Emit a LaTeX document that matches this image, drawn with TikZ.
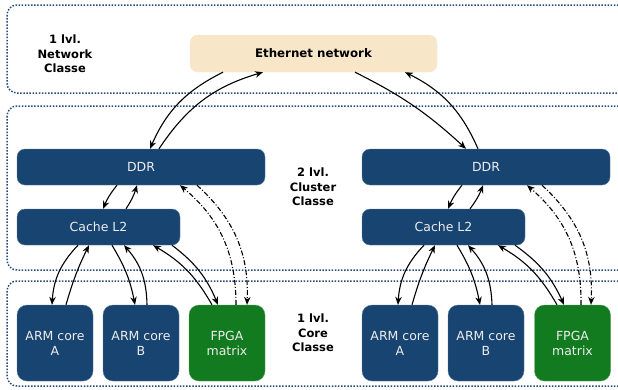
\documentclass[tikz,border=0pt]{standalone}
\usepackage{fontspec}
\setmainfont{DejaVu Sans}
\usetikzlibrary{arrows.meta}
\definecolor{nodeblue}{HTML}{174470}
\definecolor{nodegreen}{HTML}{127A1F}
\definecolor{beige}{HTML}{F8E6C8}
\definecolor{frameblue}{HTML}{264B7A}
\definecolor{txtwhite}{HTML}{EDEDED}
\tikzset{
  frame/.style={draw=frameblue, line width=1.5pt, dash pattern=on 1.5pt off 1.6pt, rounded corners=10pt},
  bluebox/.style={fill=nodeblue, draw=nodeblue!70!white, line width=0.4pt, rounded corners=8pt, text=txtwhite, font=\fontsize{12.5}{15}\selectfont, align=center, inner sep=0pt},
  greenbox/.style={bluebox, fill=nodegreen, draw=nodegreen!70!white},
  ethbox/.style={fill=beige, draw=beige, rounded corners=8pt, font=\bfseries\fontsize{11.8}{13}\selectfont, inner sep=0pt},
  lbl/.style={font=\bfseries\fontsize{11.5}{14.5}\selectfont, align=center},
  arr/.style={-{Stealth[length=8pt,width=6.5pt]}, line width=1.1pt, black},
  darr/.style={arr, dash pattern=on 5pt off 2pt on 1pt off 2pt}
}
\begin{document}
\begin{tikzpicture}[x=1pt,y=1pt]
\useasboundingbox (0,0) rectangle (618,-389);
% frames
\draw[frame] (7,-5) rectangle (630,-93);
\draw[frame] (7,-106) rectangle (630,-270);
\draw[frame] (7,-281) rectangle (630,-386);
% labels
\node[lbl] (l1) at (65,-54) {1 lvl.\\Network\\Classe};
\node[lbl] (l2) at (313,-187) {2 lvl.\\Cluster\\Classe};
\node[lbl] (l3) at (313,-333) {1 lvl.\\Core\\Classe};
% nodes
\node[ethbox, minimum width=247pt, minimum height=37pt] (eth) at (313.5,-53.5) {Ethernet network};
\node[bluebox, minimum width=248pt, minimum height=36pt] (ddrL) at (141,-167) {DDR};
\node[bluebox, minimum width=248pt, minimum height=36pt] (ddrR) at (486,-167) {DDR};
\node[bluebox, minimum width=163pt, minimum height=36pt] (cacheL) at (98.5,-227) {Cache L2};
\node[bluebox, minimum width=163pt, minimum height=36pt] (cacheR) at (443.5,-227) {Cache L2};
\node[bluebox, rounded corners=10pt, minimum width=76pt, minimum height=76pt] (armAL) at (55,-343) {ARM core\\A};
\node[bluebox, rounded corners=10pt, minimum width=76pt, minimum height=76pt] (armBL) at (141,-343) {ARM core\\B};
\node[greenbox, rounded corners=10pt, minimum width=76pt, minimum height=76pt] (fpgaL) at (227,-343) {FPGA\\matrix};
\node[bluebox, rounded corners=10pt, minimum width=76pt, minimum height=76pt] (armAR) at (400,-343) {ARM core\\A};
\node[bluebox, rounded corners=10pt, minimum width=76pt, minimum height=76pt] (armBR) at (486,-343) {ARM core\\B};
\node[greenbox, rounded corners=10pt, minimum width=76pt, minimum height=76pt] (fpgaR) at (572.5,-343) {FPGA\\matrix};
% Ethernet <-> DDR
\draw[arr] ([xshift=-90.5pt]eth.south) to[bend right=20] ([xshift=9pt]ddrL.north);
\draw[arr] ([xshift=18pt]ddrL.north) to[bend left=20] ([xshift=-50.5pt]eth.south);
\draw[arr] ([xshift=41.5pt]eth.south) to[bend left=8] ([xshift=-20pt]ddrR.north);
\draw[arr] ([xshift=-8pt]ddrR.north) to[bend right=20] ([xshift=91.5pt]eth.south);
% DDR <-> Cache
\draw[arr] ([xshift=-24pt]ddrL.south) to[bend right=8] ([xshift=4.5pt]cacheL.north);
\draw[arr] ([xshift=27.5pt]cacheL.north) to[bend right=8] ([xshift=-4pt]ddrL.south);
\draw[arr] ([xshift=-24pt]ddrR.south) to[bend right=8] ([xshift=4.5pt]cacheR.north);
\draw[arr] ([xshift=26.5pt]cacheR.north) to[bend right=8] ([xshift=-3pt]ddrR.south);
% DDR <-> FPGA
\draw[darr] ([xshift=9pt]fpgaL.north) to[bend right=25] ([xshift=39pt]ddrL.south);
\draw[darr] ([xshift=56pt]ddrL.south) to[bend left=25] ([xshift=20pt]fpgaL.north);
\draw[darr] ([xshift=8.5pt]fpgaR.north) to[bend right=25] ([xshift=41pt]ddrR.south);
\draw[darr] ([xshift=56pt]ddrR.south) to[bend left=25] ([xshift=18.5pt]fpgaR.north);
% Cache <-> cores, left
\draw[arr] ([xshift=-20.5pt]cacheL.south) to[bend right=20] ([xshift=-3pt]armAL.north);
\draw[arr] ([xshift=11pt]armAL.north) to[bend left=5] ([xshift=-9.5pt]cacheL.south);
\draw[arr] ([xshift=13.5pt]cacheL.south) to[bend left=10] ([xshift=-6pt]armBL.north);
\draw[arr] ([xshift=6pt]armBL.north) to[bend right=20] ([xshift=25.5pt]cacheL.south);
\draw[arr] ([xshift=-15pt]fpgaL.north) to[bend right=15] ([xshift=54.5pt]cacheL.south);
\draw[arr] ([xshift=73.5pt]cacheL.south) to[bend left=15] ([xshift=-9pt]fpgaL.north);
% Cache <-> cores, right
\draw[arr] ([xshift=-19.5pt]cacheR.south) to[bend right=20] ([xshift=-2pt]armAR.north);
\draw[arr] ([xshift=12pt]armAR.north) to[bend left=5] ([xshift=-8.5pt]cacheR.south);
\draw[arr] ([xshift=13.5pt]cacheR.south) to[bend left=10] ([xshift=-6pt]armBR.north);
\draw[arr] ([xshift=6pt]armBR.north) to[bend right=20] ([xshift=24.5pt]cacheR.south);
\draw[arr] ([xshift=-15.5pt]fpgaR.north) to[bend right=15] ([xshift=54.5pt]cacheR.south);
\draw[arr] ([xshift=71.5pt]cacheR.south) to[bend left=15] ([xshift=-8.5pt]fpgaR.north);
\end{tikzpicture}
\end{document}
